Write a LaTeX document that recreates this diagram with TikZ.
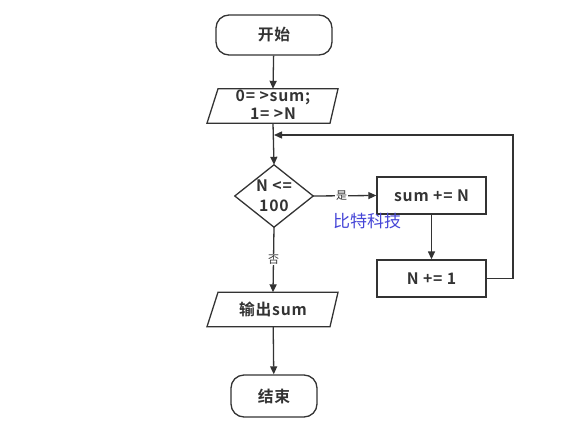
\documentclass[tikz,border=0pt]{standalone}
\usepackage{fontspec}
\setmainfont{Noto Sans CJK SC}[BoldFont={Noto Sans CJK SC Bold}]
\newfontfamily\boldsp{Noto Sans CJK SC Bold}[LetterSpace=5]
\usetikzlibrary{arrows.meta,shapes.geometric}
\definecolor{lc}{RGB}{51,51,51}
\definecolor{wm}{RGB}{70,70,215}
\tikzset{
  line/.style={draw=lc,line width=1.3pt},
  arr/.style={line,-{Triangle[length=8pt,width=7pt]}},
  txt/.style={font=\boldsp\fontsize{15.8pt}{18pt}\selectfont,text=lc,inner sep=0pt},
  term/.style={line,txt,rounded corners=13pt,minimum height=40pt},
  proc/.style={line,txt,minimum height=37pt,minimum width=109pt},
  io/.style={txt,minimum height=34pt,minimum width=120pt,align=center},
  dec/.style={txt,minimum height=62pt,minimum width=78pt,align=center,font=\boldsp\fontsize{15.8pt}{20pt}\selectfont},
  lbl/.style={fill=white,font=\fontsize{11pt}{12pt}\selectfont,text=lc,inner sep=1pt}
}
\begin{document}
\begin{tikzpicture}[x=1pt,y=-1pt]
\useasboundingbox (0,0) rectangle (570,428);
\node[term,minimum width=116pt] (start) at (274,35) {开始};
\node[io,font=\boldsp\fontsize{15.8pt}{18pt}\selectfont] (init) at (273,105) {0= >sum;\\1= >N};
\draw[line] ([xshift=-55pt,yshift=-1pt]init.north) -- ([xshift=65pt,yshift=-1pt]init.north) -- ([xshift=57pt,yshift=-1pt]init.south) -- ([xshift=-66pt,yshift=-1pt]init.south) -- cycle;
\node[dec] (cond) at (274,196) {N <=\\100};
\draw[line] (cond.north) -- (cond.east) -- (cond.south) -- (cond.west) -- cycle;
\node[proc] (add) at (431.5,195.5) {sum += N};
\node[proc] (inc) at (431.5,278.5) {N += 1};
\node[io] (out) at (273,309.5) {输出sum};
\draw[line] ([xshift=-55pt]out.north) -- ([xshift=65pt]out.north) -- ([xshift=57pt]out.south) -- ([xshift=-66pt]out.south) -- cycle;
\node[term,minimum width=86pt,minimum height=42pt] (end) at (274,396) {结束};
\coordinate (join) at (274,135);
\coordinate (corner) at (513,135);
\draw[arr] (start) -- ([yshift=-1pt]init.north);
\draw[arr] ([yshift=-1pt]init.south) -- (cond.north);
\draw[arr] (cond.east) -- node[lbl,pos=0.45]{是} (add.west);
\draw[arr] (add) -- (inc);
\draw[arr] (inc.east) -| (corner) -- (join);
\draw[arr] (cond.south) -- node[lbl,pos=0.5]{否} (out.north);
\draw[arr] (out) -- (end);
\node[font=\fontsize{17pt}{19pt}\selectfont,text=wm,inner sep=0pt] (wmk) at (367,221) {比特科技};
\end{tikzpicture}
\end{document}
